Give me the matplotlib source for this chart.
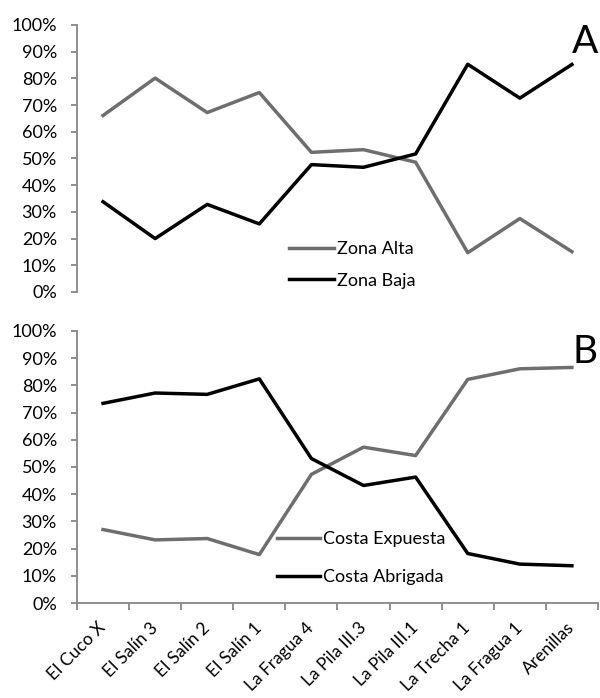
import matplotlib
matplotlib.use('Agg')
from matplotlib import pyplot as plt
import numpy as np

plt.rcParams['font.family'] = ['Lato', 'DejaVu Sans']

sites = ['El Cuco X', 'El Salín 3', 'El Salín 2', 'El Salín 1', 'La Fragua 4',
         'La Pila III.3', 'La Pila III.1', 'La Trecha 1', 'La Fragua 1', 'Arenillas']
zona_alta = [66.1, 80.1, 67.2, 74.7, 52.3, 53.3, 48.6, 14.7, 27.5, 15.1]
zona_baja = [33.8, 20.0, 32.8, 25.5, 47.7, 46.7, 51.7, 85.3, 72.6, 85.2]
costa_expuesta = [27.0, 23.2, 23.7, 17.8, 47.3, 57.3, 54.2, 82.2, 86.1, 86.6]
costa_abrigada = [73.4, 77.2, 76.7, 82.4, 53.1, 43.2, 46.3, 18.2, 14.3, 13.7]

gray = '#6e6e6e'
axcol = '#868686'
fs = 13

fig = plt.figure(figsize=(6, 6.98), dpi=100)
ax1 = fig.add_axes([0.1283, 0.5817, 0.8683, 0.3825])
ax2 = fig.add_axes([0.1283, 0.1361, 0.8683, 0.3897])

x = np.arange(len(sites))

def style(ax, bottom_axis):
    ax.set_xlim(-0.5, len(sites) - 0.5)
    ax.set_ylim(0, 100)
    ax.set_yticks(np.arange(0, 101, 10))
    ax.set_yticklabels([f'{v}%' for v in range(0, 101, 10)], fontsize=fs)
    for s in ['top', 'right']:
        ax.spines[s].set_visible(False)
    ax.spines['left'].set_color(axcol)
    ax.spines['left'].set_linewidth(1.3)
    ax.tick_params(axis='y', length=4.5, width=1.3, color=axcol, pad=10)
    if bottom_axis:
        ax.spines['bottom'].set_color(axcol)
        ax.spines['bottom'].set_linewidth(1.3)
        ax.set_xticks(np.arange(-0.5, len(sites), 1))
        ax.set_xticklabels([])
        ax.tick_params(axis='x', length=5, width=1.3, color=axcol)
        ax.set_xticks(x, minor=True)
        ax.set_xticklabels(sites, minor=True, rotation=45, ha='right', va='center',
                           rotation_mode='anchor', fontsize=12.5)
        ax.tick_params(axis='x', which='minor', length=0, pad=16)
    else:
        ax.spines['bottom'].set_visible(False)
        ax.set_xticks([])

ax1.plot(x, zona_alta, color=gray, lw=2.5, label='Zona Alta')
ax1.plot(x, zona_baja, color='black', lw=2.5, label='Zona Baja')
style(ax1, False)
ax1.legend(loc='center left', bbox_to_anchor=(0.407, 0.101), frameon=False,
           borderpad=0, borderaxespad=0, fontsize=fs, handlelength=2.5,
           handletextpad=0.17, labelspacing=0.85)
ax1.text(1.0, 0.938, 'A', transform=ax1.transAxes, fontsize=28, ha='right', va='center')

ax2.plot(x, costa_expuesta, color=gray, lw=2.5, label='Costa Expuesta')
ax2.plot(x, costa_abrigada, color='black', lw=2.5, label='Costa Abrigada')
style(ax2, True)
ax2.legend(loc='center left', bbox_to_anchor=(0.384, 0.165), frameon=False,
           borderpad=0, borderaxespad=0, fontsize=fs, handlelength=2.4,
           handletextpad=0.17, labelspacing=1.2)
ax2.text(1.0, 0.923, 'B', transform=ax2.transAxes, fontsize=28, ha='right', va='center')

fig.savefig('out.png', dpi=100, facecolor='white')
